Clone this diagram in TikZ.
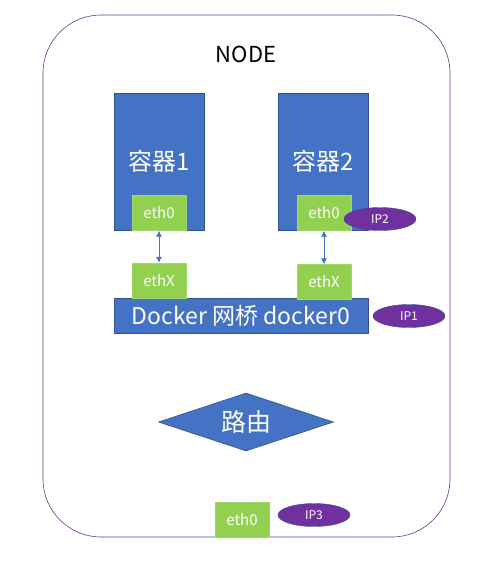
\documentclass[tikz,border=0pt]{standalone}
\usepackage{fontspec}
\setmainfont{Noto Sans CJK SC}
\usepackage{tikz}
\usetikzlibrary{shapes.geometric, arrows.meta, calc, positioning}
\definecolor{boxblue}{RGB}{68,114,196}
\definecolor{edgeblue}{RGB}{47,82,143}
\definecolor{nicgreen}{RGB}{146,208,80}
\definecolor{ippurple}{RGB}{112,48,160}

\begin{document}
\begin{tikzpicture}[x=1pt, y=-1pt,
  container/.style={draw=edgeblue, fill=boxblue, line width=0.6pt, minimum width=90pt, minimum height=137pt, inner sep=0pt},
  nic/.style={fill=nicgreen, draw=nicgreen!85!white, text=white, minimum width=54pt, minimum height=35pt, inner sep=0pt, font=\fontsize{15}{17}\selectfont},
  ip/.style={ellipse, fill=ippurple, draw=edgeblue, line width=0.4pt, text=white, minimum width=72pt, minimum height=23pt, inner sep=0pt, font=\fontsize{12}{14}\selectfont},
  link/.style={{Latex[length=6pt,width=6pt]}-{Latex[length=6pt,width=6pt]}, boxblue, line width=0.7pt}]

\useasboundingbox (0,0) rectangle (496,584);

% outer host
\draw[edgeblue, line width=0.6pt, rounded corners=58pt] (43,15) rectangle (450,537);
\node (host) at (246,54) {\fontsize{22}{26}\selectfont NODE};

% containers
\node (c1)[container] at (159,161.5) {};
\node at (c1.center)[text=white, font=\fontsize{24}{28}\selectfont]{容器1};
\node (c2)[container] at (323,161.5) {};
\node at (c2.center)[text=white, font=\fontsize{24}{28}\selectfont]{容器2};

\node (e1)[nic] at (159,213) {eth0};
\node (e2)[nic] at (324,213) {eth0};
\node (ip2)[ip] at (380,219) {IP2};

% bridge
\node (br)[fill=boxblue, draw=edgeblue, line width=0.6pt, minimum width=254pt, minimum height=35pt, inner sep=0pt, text=white, font=\fontsize{23}{27}\selectfont] at (241,315.5) {Docker 网桥 docker0};
\node (x1)[nic] at (159,280.5) {ethX};
\node (x2)[nic] at (324,282) {ethX};
\node (ip1)[ip] at (409,316) {IP1};

\draw[link] (e1.south) -- (x1.north);
\draw[link] (e2.south) -- (x2.north);

% router
\node (rt)[diamond, aspect=3, fill=boxblue, draw=edgeblue, line width=0.6pt, minimum width=175pt, minimum height=58pt, inner sep=0pt, text=white, font=\fontsize{25}{29}\selectfont] at (246,422) {路由};

\node (e3)[nic] at (242,519.5) {eth0};
\node (ip3)[ip] at (314,515) {IP3};
\end{tikzpicture}
\end{document}
